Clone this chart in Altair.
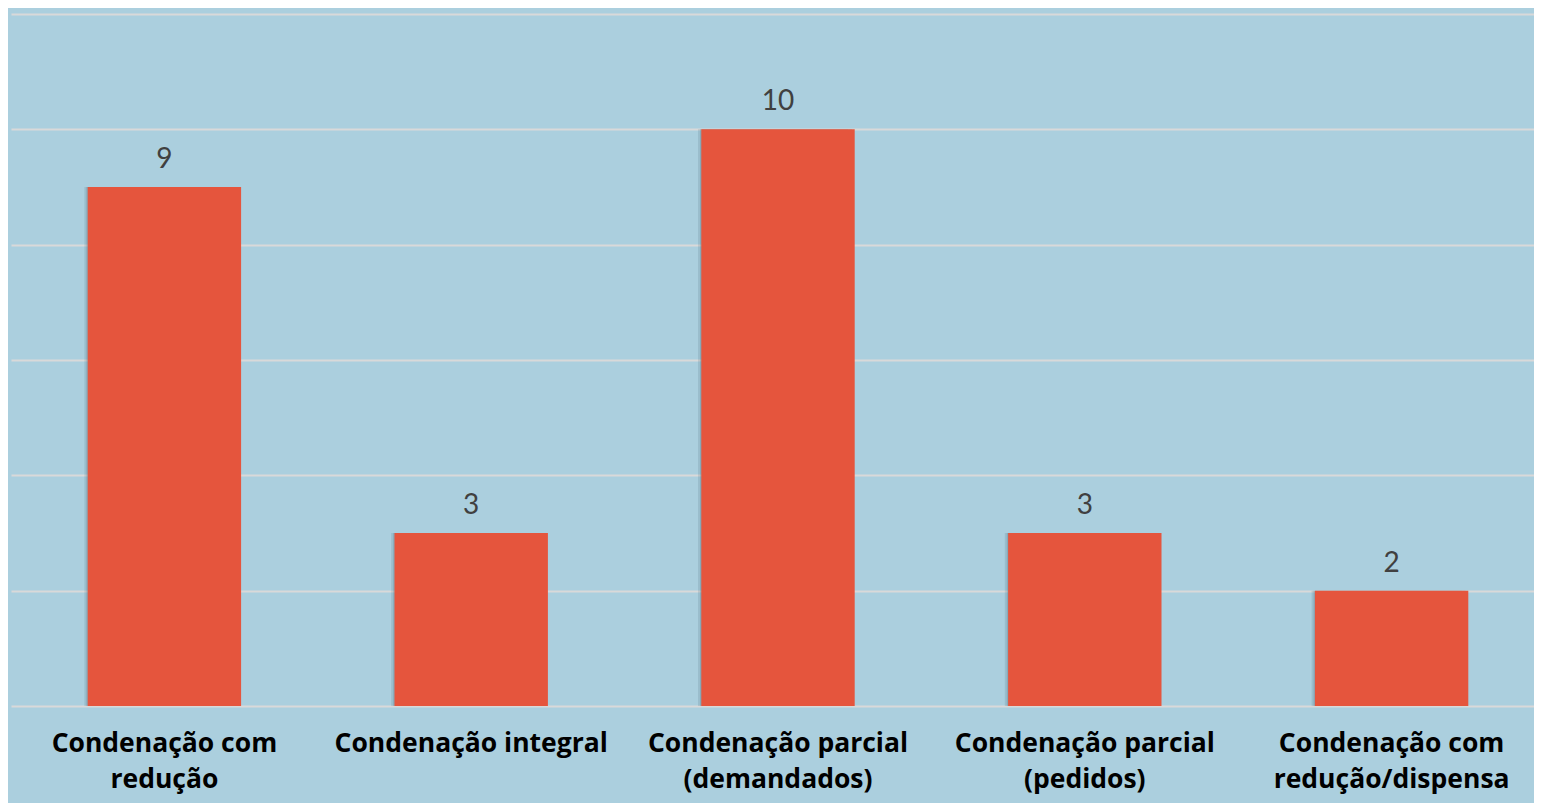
import altair as alt
import pandas as pd

categories = [
    "Condenação com\nredução",
    "Condenação integral",
    "Condenação parcial\n(demandados)",
    "Condenação parcial\n(pedidos)",
    "Condenação com\nredução/dispensa",
]
values = [9, 3, 10, 3, 2]

df = pd.DataFrame({"cat": categories, "val": values})

BG = "#ABCFDE"
BAR = "#E5553D"

x = alt.X(
    "cat:N",
    sort=categories,
    title=None,
    scale=alt.Scale(paddingInner=0.5, paddingOuter=0.25, range=[0, 1534]),
    axis=alt.Axis(
        labelExpr="split(datum.value, '\\n')",
        labelAngle=0,
        labelFont="Open Sans",
        labelFontWeight="bold",
        labelFontSize=26.5,
        labelColor="#000000",
        labelPadding=24,
        labelLineHeight=36,
        labelLimit=400,
        labelBaseline="top",
        domain=False,
        ticks=False,
        grid=False,
    ),
)
y = alt.Y(
    "val:Q",
    title=None,
    scale=alt.Scale(domain=[0, 12], nice=False),
    axis=alt.Axis(
        values=[0, 2, 4, 6, 8, 10, 12],
        labels=False,
        ticks=False,
        domain=False,
        grid=True,
        gridColor="#D9D9D9",
        gridWidth=2,
        gridOpacity=1,
    ),
)

shadow1 = alt.Chart(df).mark_bar(color="#4f6f7c", opacity=0.18, xOffset=-5, size=150).encode(x=x, y=y)
shadow2 = alt.Chart(df).mark_bar(color="#4f6f7c", opacity=0.25, xOffset=-2, size=152).encode(x=x, y=y)
bars = alt.Chart(df).mark_bar(color=BAR).encode(x=x, y=y)
labels = alt.Chart(df).mark_text(
    dy=-19, baseline="alphabetic", font="Lato", fontSize=28, color="#404040"
).encode(x=x, y=y, text="val:Q")

chart = (
    alt.layer(shadow1, shadow2, bars, labels)
    .properties(
        width=1523,
        height=692,
        background=BG,
        padding={"left": 3, "top": 6, "right": 0, "bottom": 97},
        autosize=alt.AutoSizeParams(type="none"),
    )
    .configure_view(stroke=None, fill=BG)
)

chart.save("out.html", embed_options={"renderer": "svg", "actions": False})
